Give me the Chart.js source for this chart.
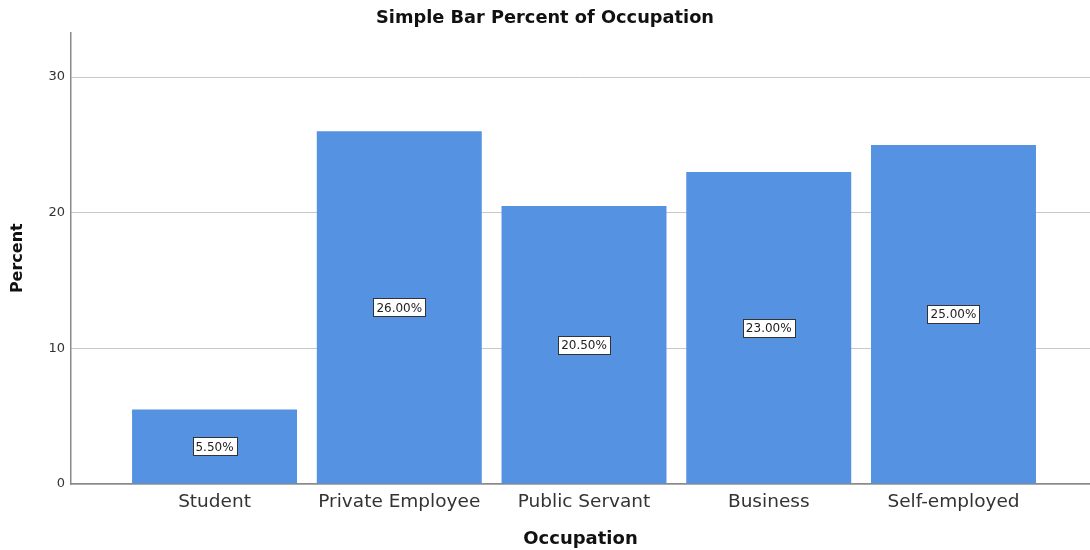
<!DOCTYPE html>
<html>
<head>
<meta charset="utf-8">
<script src="https://cdn.jsdelivr.net/npm/chart.js@4"></script>
<style>
  html, body { margin: 0; padding: 0; background: #fff; }
  #wrap { width: 1090px; height: 550px; }
</style>
</head>
<body>
<div id="wrap"><canvas id="myChart" width="1090" height="550"></canvas></div>
<script>
const occupations = ["Student", "Private Employee", "Public Servant", "Business", "Self-employed"];
const percents = [5.5, 26.0, 20.5, 23.0, 25.0];
const yTicks = [0, 10, 20, 30];

const barColor = "#5592e1";
const fontName = "'DejaVu Sans', 'Liberation Sans', sans-serif";

// boxed percentage label in the middle of each bar
const valueBoxes = {
  id: "valueBoxes",
  afterDatasetsDraw(chart) {
    const ctx = chart.ctx;
    const meta = chart.getDatasetMeta(0);
    ctx.save();
    ctx.font = "12px " + fontName;
    ctx.textAlign = "center";
    ctx.textBaseline = "middle";
    meta.data.forEach((bar, i) => {
      const txt = percents[i].toFixed(2) + "%";
      const cy = (bar.y + bar.base) / 2;
      const w = Math.round(ctx.measureText(txt).width + 6);
      const h = 18;
      const x0 = Math.round(bar.x - w / 2), y0 = Math.round(cy - h / 2);
      ctx.fillStyle = "#fff";
      ctx.fillRect(x0, y0, w, h);
      ctx.strokeStyle = "#333";
      ctx.lineWidth = 1;
      ctx.strokeRect(x0 + 0.5, y0 + 0.5, w, h);
      ctx.fillStyle = "#222";
      ctx.fillText(txt, bar.x, cy + 1);
    });
    ctx.restore();
  }
};

new Chart("myChart", {
  type: "bar",
  data: {
    datasets: [{
      data: percents.map((p, i) => ({ x: i + 1, y: p })),
      backgroundColor: barColor,
      borderWidth: 0,
      categoryPercentage: 1,
      barPercentage: 0.893
    }]
  },
  options: {
    responsive: false,
    animation: false,
    layout: { padding: 0 },
    plugins: {
      legend: { display: false },
      tooltip: { enabled: false },
      title: {
        display: true,
        text: "Simple Bar Percent of Occupation",
        color: "#111",
        font: { family: fontName, size: 17.8, weight: "bold" },
        padding: { top: 8, bottom: 3 }
      }
    },
    scales: {
      x: {
        type: "linear",
        offset: false,
        min: 0.223,
        max: 5.739,
        afterBuildTicks(scale) {
          scale.ticks = occupations.map((_, i) => ({ value: i + 1 }));
        },
        afterFit(scale) { scale.height = 66; },
        ticks: {
          autoSkip: false,
          maxRotation: 0,
          color: "#333",
          padding: 7,
          font: { family: fontName, size: 18.5 },
          callback: (v) => occupations[v - 1]
        },
        grid: { display: false, drawTicks: false },
        border: { color: "#8a8a8a", width: 1.5 },
        title: {
          display: true,
          text: "Occupation",
          color: "#111",
          font: { family: fontName, size: 18, weight: "bold" },
          padding: { top: 4, bottom: 0 }
        }
      },
      y: {
        min: 0,
        max: 33.3,
        afterBuildTicks(scale) {
          scale.ticks = yTicks.map(v => ({ value: v }));
        },
        afterFit(scale) { scale.width = 71; },
        ticks: {
          color: "#333",
          padding: 6,
          font: { family: fontName, size: 13 }
        },
        grid: {
          color: "#c8c8c8",
          lineWidth: 1,
          drawTicks: false
        },
        border: { color: "#8a8a8a", width: 1.5 },
        title: {
          display: true,
          text: "Percent",
          color: "#111",
          font: { family: fontName, size: 16, weight: "bold" },
          padding: { top: 8, bottom: 0 }
        }
      }
    }
  },
  plugins: [valueBoxes]
});
</script>
</body>
</html>
